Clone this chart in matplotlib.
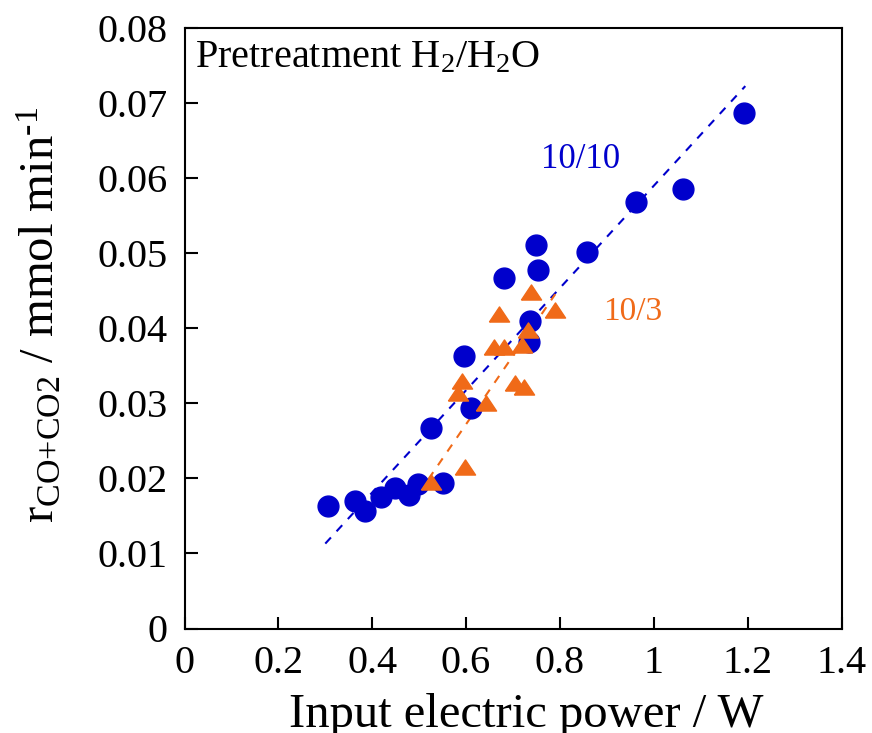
import matplotlib
matplotlib.use("Agg")
import matplotlib.pyplot as plt

plt.rcParams['font.family'] = ['Liberation Serif', 'DejaVu Serif']
plt.rcParams['mathtext.fontset'] = 'custom'
plt.rcParams['mathtext.rm'] = 'Liberation Serif'
plt.rcParams['mathtext.it'] = 'Liberation Serif:italic'
plt.rcParams['mathtext.bf'] = 'Liberation Serif:bold'

# Series 10/10 (blue circles)
x_1010 = [0.306, 0.363, 0.384, 0.418, 0.448, 0.478, 0.497, 0.551, 0.525, 0.595,
          0.610, 0.681, 0.749, 0.753, 0.736, 0.734, 0.857, 0.962, 1.062, 1.192]
y_1010 = [0.0163, 0.0170, 0.0156, 0.0175, 0.0187, 0.0178, 0.0192, 0.0194, 0.0267, 0.0363,
          0.0294, 0.0467, 0.0511, 0.0477, 0.0409, 0.0382, 0.0501, 0.0568, 0.0585, 0.0686]

# Series 10/3 (orange triangles)
x_103 = [0.525, 0.598, 0.583, 0.591, 0.642, 0.659, 0.681, 0.670, 0.704, 0.723,
         0.719, 0.731, 0.738, 0.789]
y_103 = [0.0195, 0.0215, 0.0313, 0.0330, 0.0300, 0.0375, 0.0375, 0.0418, 0.0327, 0.0321,
         0.0377, 0.0398, 0.0448, 0.0424]

# Trend lines (endpoints)
trend_x_1010 = [0.300, 1.195]
trend_y_1010 = [0.0113, 0.0722]
trend_x_103 = [0.520, 0.790]
trend_y_103 = [0.0199, 0.0445]

x_ticks = [0, 0.2, 0.4, 0.6, 0.8, 1.0, 1.2, 1.4]
x_ticklabels = ['0', '0.2', '0.4', '0.6', '0.8', '1', '1.2', '1.4']
y_ticks = [0, 0.01, 0.02, 0.03, 0.04, 0.05, 0.06, 0.07, 0.08]
y_ticklabels = ['0', '0.01', '0.02', '0.03', '0.04', '0.05', '0.06', '0.07', '0.08']

blue = '#0000CC'
orange = '#F06A18'

fig = plt.figure(figsize=(8.72, 7.33), dpi=100)
ax = fig.add_axes([184.5 / 872, (733 - 628.5) / 733, 657 / 872, 601 / 733])

ax.plot(trend_x_1010, trend_y_1010, color=blue, lw=1.5, ls=(0, (4, 4)), zorder=2)
ax.plot(trend_x_103, trend_y_103, color=orange, lw=1.5, ls=(0, (4, 4)), zorder=2)

ax.plot(x_1010, y_1010, ls='none', marker='o', ms=15, color=blue, mec=blue, zorder=3)
tri = [(-1, -0.75), (1, -0.75), (0, 0.75), (-1, -0.75)]
ax.plot(x_103, y_103, ls='none', marker=tri, ms=14.5, color=orange, mec=orange, zorder=4)

ax.set_xlim(0, 1.4)
ax.set_ylim(0, 0.08)
ax.set_xticks(x_ticks)
ax.set_xticklabels(x_ticklabels)
ax.set_yticks(y_ticks)
ax.set_yticklabels(y_ticklabels)
ax.tick_params(direction='in', length=9, width=1.5, labelsize=29, pad=12,
               top=False, right=False)
for s in ax.spines.values():
    s.set_linewidth(1.5)

ax.text(0.016, 0.934, 'Pretreatment H$_2$/H$_2$O', transform=ax.transAxes,
        ha='left', va='baseline', fontsize=29)
ax.text(0.843, 0.0624, '10/10', color=blue, fontsize=25, ha='center', va='center')
ax.text(0.955, 0.0421, '10/3', color=orange, fontsize=24, ha='center', va='center')

fig.text(526 / 872, 1 - 727 / 733, 'Input electric power / W', fontsize=35,
         ha='center', va='baseline')
fig.text(40 / 872, 1 - 315 / 733, r'r$_{\text{CO+CO2}}$ / mmol min$^{\text{-1}}$',
         fontsize=35, rotation=90, ha='center', va='center')

fig.savefig('out.png', dpi=100)
